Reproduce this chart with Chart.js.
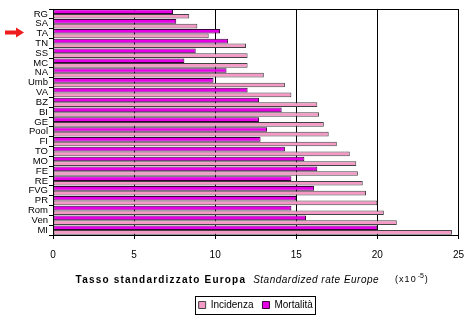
<!DOCTYPE html>
<html>
<head>
<meta charset="utf-8">
<title>Tasso standardizzato Europa</title>
<script src="https://cdn.jsdelivr.net/npm/chart.js"></script>
<style>
    html, body { margin: 0; padding: 0; background: #fff; }
    #wrap { width: 474px; height: 320px; }
</style>
</head>
<body>
<div id="wrap"><canvas id="chart" width="474" height="320"></canvas></div>
<script>
var areas = ["RG", "SA", "TA", "TN", "SS", "MC", "NA", "Umb", "VA", "BZ", "BI", "GE", "Pool", "FI", "TO", "MO", "FE", "RE", "FVG", "PR", "Rom", "Ven", "MI"];
var incidenza = [8.4, 8.9, 9.6, 11.9, 12.0, 12.0, 13.0, 14.3, 14.7, 16.3, 16.4, 16.7, 17.0, 17.5, 18.3, 18.7, 18.8, 19.1, 19.3, 20.0, 20.4, 21.2, 24.6];
var mortalita = [7.4, 7.6, 10.3, 10.8, 8.8, 8.1, 10.7, 9.9, 12.0, 12.7, 14.1, 12.7, 13.2, 12.8, 14.3, 15.5, 16.3, 14.7, 16.1, 15.0, 14.7, 15.6, 20.0];
var xTicks = [0, 5, 10, 15, 20, 25];
var seriesNames = ["Incidenza", "Mortalità"];
var markedArea = "TA";

var fontName = "'Liberation Sans', Arial, sans-serif";

// frame round the plot, box round the legend, arrow and the mixed-style axis title
var extras = {
    id: 'extras',
    afterDraw: function (chart) {
        var ctx = chart.ctx;
        var a = chart.chartArea;
        ctx.save();
        ctx.strokeStyle = '#000';
        ctx.lineWidth = 1;
        ctx.strokeRect(Math.round(a.left) + 0.5, Math.round(a.top) + 0.5, Math.round(a.right - a.left), Math.round(a.bottom - a.top));

        // legend box
        var boxes = chart.legend.legendHitBoxes;
        if (boxes && boxes.length) {
            var l = 1e9, r = -1e9, t = 1e9, b = -1e9;
            boxes.forEach(function (h) {
                l = Math.min(l, h.left); r = Math.max(r, h.left + h.width);
                t = Math.min(t, h.top); b = Math.max(b, h.top + h.height);
            });
            ctx.strokeRect(Math.round(l - 4) + 0.5, Math.round(t - 4) + 0.5, Math.round(r - l + 6), Math.round(b - t + 8));
        }

        // red arrow next to the marked area
        var y = chart.scales.y.getPixelForValue(areas.indexOf(markedArea)) - 1;
        ctx.fillStyle = '#ee1c1c';
        ctx.beginPath();
        ctx.moveTo(5, y - 2);
        ctx.lineTo(16, y - 2);
        ctx.lineTo(16, y - 5);
        ctx.lineTo(24, y);
        ctx.lineTo(16, y + 5);
        ctx.lineTo(16, y + 2);
        ctx.lineTo(5, y + 2);
        ctx.closePath();
        ctx.fill();

        // axis title in three styles
        var parts = [
            { text: "Tasso standardizzato Europa", font: "bold 10px " + fontName, spacing: "1.2px", gap: 7 },
            { text: "Standardized rate Europe", font: "italic 10px " + fontName, spacing: "0.5px", gap: 16 },
            { text: "(x10", font: "9px " + fontName, spacing: "1px", gap: 1 },
            { text: "-5", font: "7px " + fontName, spacing: "0px", gap: 1, up: 4 },
            { text: ")", font: "9px " + fontName, spacing: "0px", gap: 0 }
        ];
        var total = 0;
        parts.forEach(function (p) {
            ctx.font = p.font;
            ctx.letterSpacing = p.spacing;
            p.w = ctx.measureText(p.text).width;
            total += p.w + p.gap;
        });
        var x = (a.left + a.right) / 2 - 4 - total / 2;
        var ty = a.bottom + 45;
        ctx.fillStyle = '#000';
        ctx.textBaseline = 'middle';
        ctx.textAlign = 'left';
        parts.forEach(function (p) {
            ctx.font = p.font;
            ctx.letterSpacing = p.spacing;
            ctx.fillText(p.text, x, ty - (p.up || 0));
            x += p.w + p.gap;
        });
        ctx.restore();
    }
};

new Chart("chart", {
    type: "bar",
    data: {
        labels: areas,
        datasets: [{
            label: seriesNames[1],
            data: mortalita,
            backgroundColor: "#e600e6",
            borderColor: "#3a003a",
            borderWidth: 1,
            borderSkipped: false
        }, {
            label: seriesNames[0],
            data: incidenza,
            backgroundColor: "#f59ac6",
            borderColor: "#444444",
            borderWidth: 1,
            borderSkipped: false
        }]
    },
    options: {
        indexAxis: 'y',
        responsive: false,
        animation: false,
        devicePixelRatio: 1,
        categoryPercentage: 0.95,
        barPercentage: 1.0,
        layout: { padding: { top: 9, right: 8, bottom: 0, left: 0 } },
        scales: {
            x: {
                min: 0,
                max: 25,
                afterBuildTicks: function (s) {
                    s.ticks = xTicks.map(function (v) { return { value: v }; });
                },
                afterFit: function (s) { s.height = 56; },
                grid: { color: '#000', lineWidth: 1, tickLength: 4 },
                border: { color: '#000' },
                ticks: { color: '#000', padding: 10, maxRotation: 0, font: { family: fontName, size: 10 } }
            },
            y: {
                afterFit: function (s) { s.width = 53; },
                grid: { drawOnChartArea: false, color: '#000', tickLength: 4, offset: true },
                border: { color: '#000' },
                ticks: { color: '#000', padding: 1, autoSkip: false, font: { family: fontName, size: 9.5 } }
            }
        },
        plugins: {
            legend: {
                position: 'bottom',
                fullSize: false,
                reverse: true,
                labels: {
                    color: '#000',
                    boxWidth: 7,
                    boxHeight: 7,
                    padding: 9,
                    font: { family: fontName, size: 10 }
                }
            },
            tooltip: { enabled: false }
        }
    },
    plugins: [extras]
});
</script>
</body>
</html>
